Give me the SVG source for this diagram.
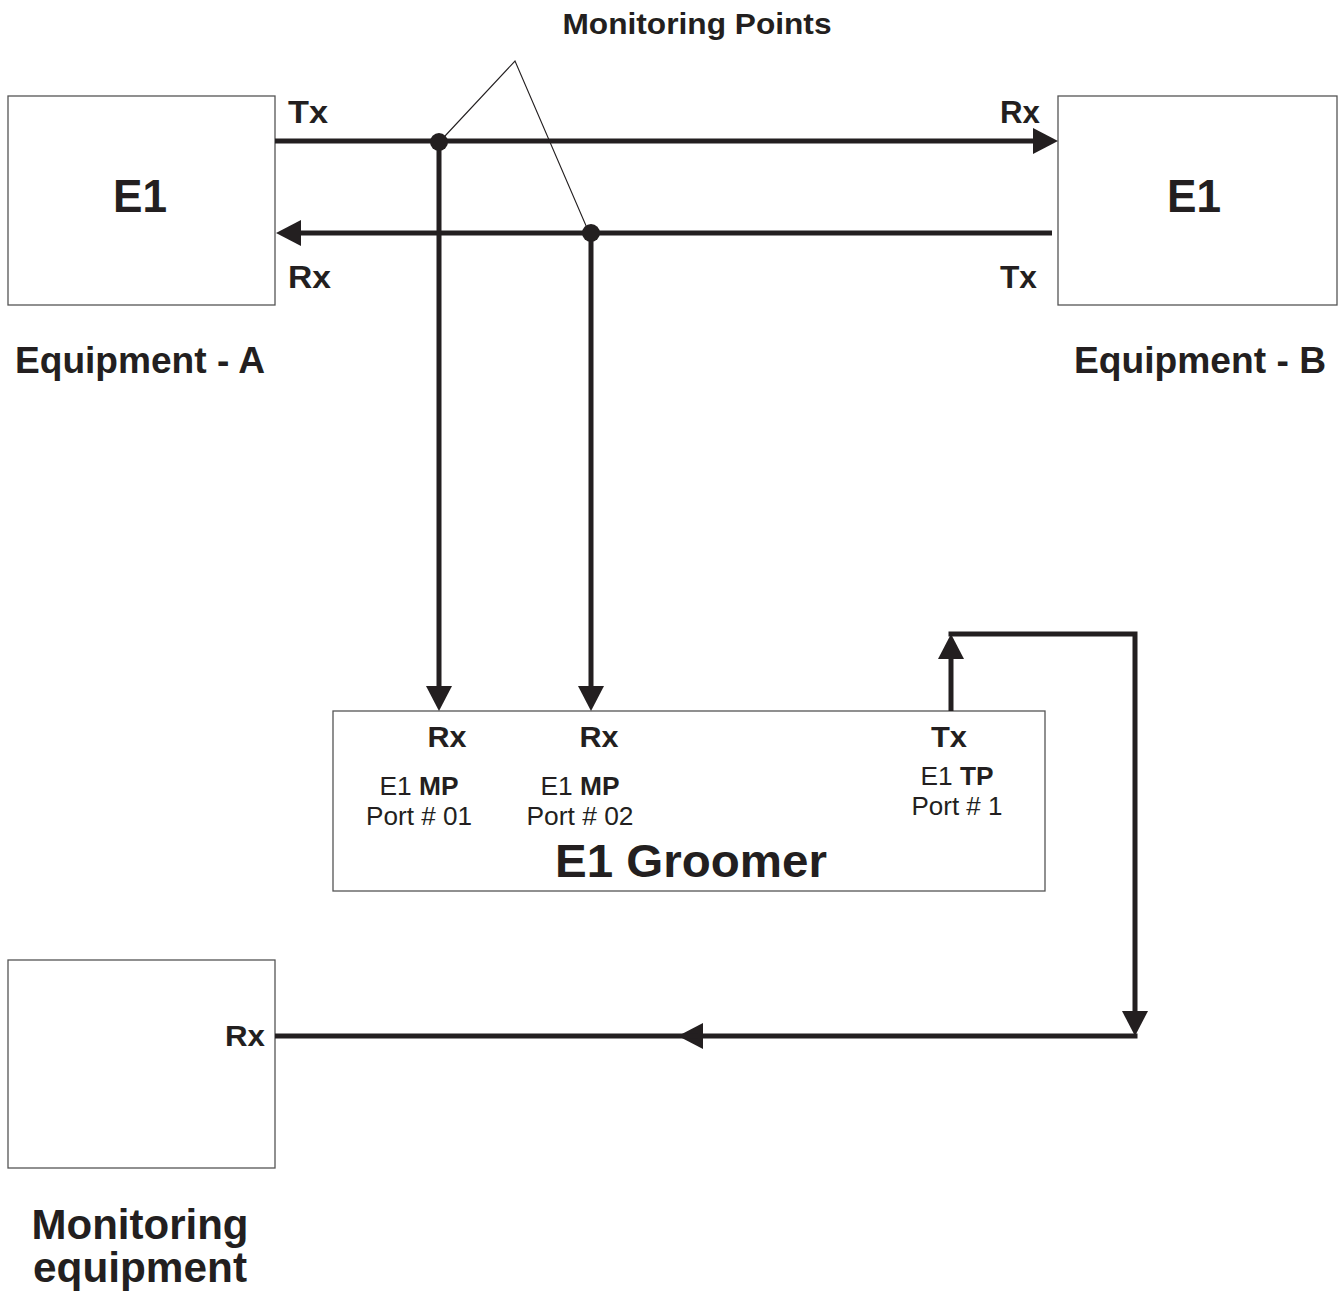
<svg xmlns="http://www.w3.org/2000/svg" width="1339" height="1295" viewBox="0 0 1339 1295">
<style>
text{font-family:"Liberation Sans",Arial,sans-serif;fill:#231f20}
.b{font-weight:bold}
.box{fill:#fff;stroke:#555;stroke-width:1.3}
.w{fill:none;stroke:#231f20;stroke-width:5;marker-end:url(#ah)}
.n{fill:none;stroke:#231f20;stroke-width:5}
.thin{fill:none;stroke:#231f20;stroke-width:1.1}
</style>
<defs>
<marker id="ah" markerUnits="userSpaceOnUse" markerWidth="26" markerHeight="28" refX="7" refY="13" orient="auto" overflow="visible">
<path d="M0,0 L25,13 L0,26 z" fill="#231f20"/>
</marker>
</defs>
<rect width="1339" height="1295" fill="#fff"/>

<g id="equipment-a">
<rect class="box" x="8" y="96" width="267" height="209"/>
<text class="b" x="140" y="212" font-size="46" text-anchor="middle" textLength="54" lengthAdjust="spacingAndGlyphs">E1</text>
<text class="b" x="288" y="123" font-size="31" textLength="40" lengthAdjust="spacingAndGlyphs">Tx</text>
<text class="b" x="288" y="288" font-size="31" textLength="43" lengthAdjust="spacingAndGlyphs">Rx</text>
<text class="b" x="140" y="373" font-size="37" text-anchor="middle" textLength="250" lengthAdjust="spacingAndGlyphs">Equipment - A</text>
</g>

<g id="equipment-b">
<rect class="box" x="1058" y="96" width="279" height="209"/>
<text class="b" x="1194" y="212" font-size="46" text-anchor="middle" textLength="54" lengthAdjust="spacingAndGlyphs">E1</text>
<text class="b" x="1000" y="123" font-size="31" textLength="40" lengthAdjust="spacingAndGlyphs">Rx</text>
<text class="b" x="1000" y="288" font-size="31" textLength="37" lengthAdjust="spacingAndGlyphs">Tx</text>
<text class="b" x="1200" y="373" font-size="37" text-anchor="middle" textLength="252" lengthAdjust="spacingAndGlyphs">Equipment - B</text>
</g>

<g id="groomer">
<rect class="box" x="333" y="711" width="712" height="180"/>
<text class="b" x="447" y="747" font-size="30" text-anchor="middle" textLength="39" lengthAdjust="spacingAndGlyphs">Rx</text>
<text class="b" x="599" y="747" font-size="30" text-anchor="middle" textLength="39" lengthAdjust="spacingAndGlyphs">Rx</text>
<text class="b" x="949" y="747" font-size="30" text-anchor="middle" textLength="36" lengthAdjust="spacingAndGlyphs">Tx</text>
<text x="419" y="795" font-size="25" text-anchor="middle" textLength="79" lengthAdjust="spacingAndGlyphs">E1 <tspan class="b">MP</tspan></text>
<text x="419" y="825" font-size="25" text-anchor="middle" textLength="106" lengthAdjust="spacingAndGlyphs">Port # 01</text>
<text x="580" y="795" font-size="25" text-anchor="middle" textLength="79" lengthAdjust="spacingAndGlyphs">E1 <tspan class="b">MP</tspan></text>
<text x="580" y="825" font-size="25" text-anchor="middle" textLength="107" lengthAdjust="spacingAndGlyphs">Port # 02</text>
<text x="957" y="785" font-size="25" text-anchor="middle" textLength="73" lengthAdjust="spacingAndGlyphs">E1 <tspan class="b">TP</tspan></text>
<text x="957" y="815" font-size="25" text-anchor="middle" textLength="91" lengthAdjust="spacingAndGlyphs">Port # 1</text>
<text class="b" x="691" y="877" font-size="47" text-anchor="middle" textLength="272" lengthAdjust="spacingAndGlyphs">E1 Groomer</text>
</g>

<g id="monitoring-equipment">
<rect class="box" x="8" y="960" width="267" height="208"/>
<text class="b" x="245" y="1046" font-size="30" text-anchor="middle" textLength="40" lengthAdjust="spacingAndGlyphs">Rx</text>
<text class="b" x="140" y="1239" font-size="42" text-anchor="middle" textLength="217" lengthAdjust="spacingAndGlyphs">Monitoring</text>
<text class="b" x="140" y="1282" font-size="42" text-anchor="middle" textLength="214" lengthAdjust="spacingAndGlyphs">equipment</text>
</g>

<g id="monitoring-points-label">
<text class="b" x="697" y="34" font-size="30" text-anchor="middle" textLength="269" lengthAdjust="spacingAndGlyphs">Monitoring Points</text>
</g>

<g id="connectors">
<path class="w" d="M275,141 H1040"/>
<path class="w" d="M1052,233 H294"/>
<path class="w" d="M439,141 V693"/>
<path class="w" d="M591,233 V693"/>
<path class="w" d="M951,711 V652"/>
<path class="w" d="M948.5,634 H1135 V1018"/>
<path class="w" d="M1137.5,1036 H696"/>
<path class="n" d="M698,1036 H275"/>
<circle cx="439" cy="142" r="9" fill="#231f20"/>
<circle cx="591" cy="233" r="9" fill="#231f20"/>
<path class="thin" d="M445,136 L515,61 L587,228"/>
</g>
</svg>
